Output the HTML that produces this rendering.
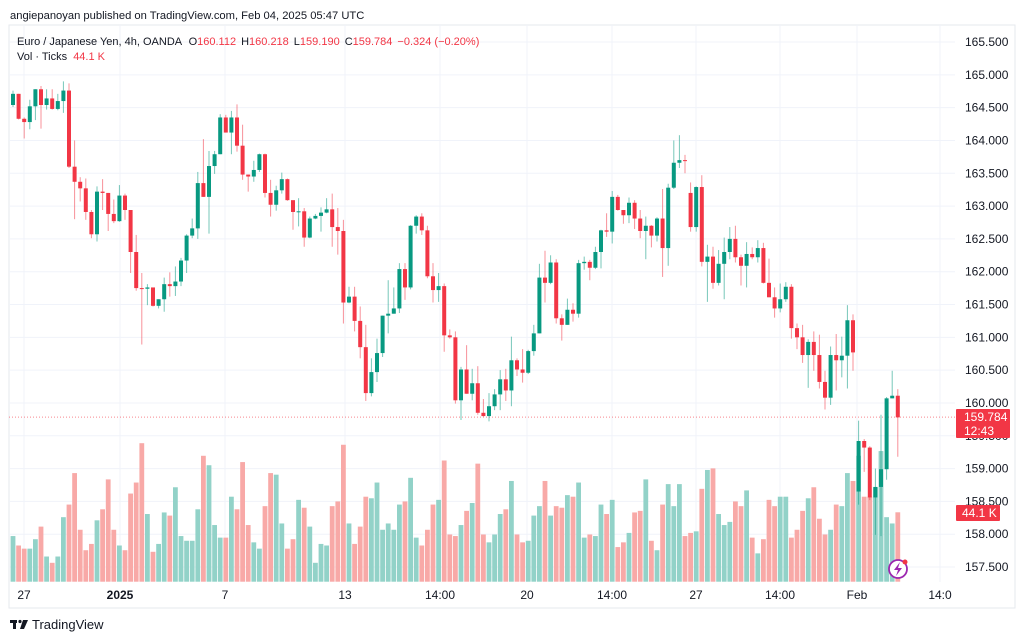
<!DOCTYPE html>
<html><head><meta charset="utf-8"><style>
html,body{margin:0;padding:0;background:#fff;}
svg{display:block;font-family:"Liberation Sans",sans-serif;}
</style></head><body>
<svg id="chart" width="1024" height="641" viewBox="0 0 1024 641" xmlns="http://www.w3.org/2000/svg">
<text x="10" y="19" font-size="11.2" fill="#131722">angiepanoyan published on TradingView.com, Feb 04, 2025 05:47 UTC</text>
<rect x="9" y="25" width="1006" height="583" fill="none" stroke="#e6e8ee" stroke-width="1"/>
<g id="grid"></g>
<g id="vol"></g>
<line x1="9" x2="955" y1="417.1" y2="417.1" stroke="#F23645" stroke-opacity="0.6" stroke-dasharray="1,2"/>
<g id="candles"></g>
<g id="yaxis"></g>
<g id="xaxis"></g>
<text x="17" y="45" font-size="11" fill="#131722">Euro / Japanese Yen, 4h, OANDA <tspan dx="4">O</tspan><tspan fill="#F23645">160.112</tspan><tspan dx="5">H</tspan><tspan fill="#F23645">160.218</tspan><tspan dx="5">L</tspan><tspan fill="#F23645">159.190</tspan><tspan dx="5">C</tspan><tspan fill="#F23645">159.784</tspan><tspan dx="5" fill="#F23645">−0.324 (−0.20%)</tspan></text>
<text x="17" y="60" font-size="11" fill="#131722">Vol · Ticks <tspan dx="3" fill="#F23645">44.1 K</tspan></text>
<g>
<rect x="956" y="409" width="54" height="29" rx="1" fill="#F23645"/>
<text x="964" y="421" font-size="12" fill="#fff">159.784</text>
<text x="964" y="435" font-size="12" fill="#fff">12:43</text>
</g>
<g>
<rect x="956" y="505" width="44" height="16" rx="1" fill="#F23645"/>
<text x="962" y="517" font-size="12" fill="#fff">44.1 K</text>
</g>
<g>
<circle cx="898" cy="569" r="9" fill="#fff" stroke="#9c27b0" stroke-width="1.8"/>
<path d="M900 562 L894 570 L898 570 L896 576 L902 568 L898 568 Z" fill="#9c27b0"/>
<circle cx="905" cy="562" r="2.5" fill="#F23645"/>
</g>
<g>
<rect x="10" y="620" width="7" height="3" fill="#131722"/>
<rect x="13" y="620" width="3" height="9" fill="#131722"/>
<circle cx="20" cy="621.5" r="1.6" fill="#131722"/>
<path d="M23 620 L28 620 L24 629 L20 629 Z" fill="#131722"/>
<text x="32" y="629" font-size="13" fill="#131722">TradingView</text>
</g>
</svg>
<script>
const closes=[164.71,164.33,164.28,164.52,164.78,164.54,164.64,164.48,164.60,164.76,163.60,163.37,163.27,162.91,162.57,163.22,163.20,162.88,162.77,163.16,162.94,162.30,161.75,161.74,161.76,161.48,161.58,161.81,161.78,161.85,162.17,162.55,162.66,163.35,163.14,163.61,163.79,164.35,164.12,164.35,163.92,163.48,163.45,163.55,163.79,163.20,163.02,163.24,163.41,163.09,162.91,162.92,162.52,162.81,162.85,162.90,162.95,162.68,162.62,161.53,161.62,161.25,160.85,160.15,160.47,160.76,161.33,161.36,161.44,162.04,161.76,162.70,162.84,162.63,161.93,161.72,161.78,161.03,161.00,160.04,160.51,160.14,160.30,159.85,159.80,159.95,160.13,160.36,160.19,160.65,160.51,160.46,160.79,161.06,161.91,161.83,162.14,161.29,161.19,161.42,161.36,162.13,162.15,162.06,162.30,162.63,162.61,163.14,162.94,162.86,163.05,162.81,162.62,162.70,162.55,162.81,162.36,163.28,163.66,163.70,163.69,162.68,163.29,162.15,162.23,161.83,162.12,162.30,162.50,162.22,162.09,162.27,162.22,162.36,161.83,161.61,161.44,161.58,161.77,161.14,161.00,160.73,160.93,160.73,160.32,160.08,160.73,160.65,160.72,161.26,160.77,159.42,159.32,158.56,158.72,158.99,160.07,160.11,159.78];
const highs=[164.76,164.71,164.35,164.62,164.78,164.83,164.78,164.78,164.71,164.90,164.87,164.00,163.44,163.42,162.94,163.30,163.41,163.20,163.10,163.32,163.19,162.94,162.56,161.98,161.81,161.75,161.58,161.91,161.99,162.08,162.21,162.57,162.81,163.52,164.02,163.84,163.84,164.40,164.39,164.45,164.55,164.24,163.48,163.69,163.80,163.80,163.40,163.31,163.51,163.42,163.08,163.12,162.97,162.84,162.88,162.98,163.12,163.19,162.97,162.79,161.77,161.77,161.47,161.19,160.68,160.98,161.33,161.87,161.76,162.13,162.13,162.71,162.86,162.89,162.70,162.13,161.98,161.82,161.12,161.09,160.55,160.88,160.52,160.56,160.06,160.15,160.21,160.50,160.52,161.01,160.68,160.82,160.81,161.19,162.12,162.32,162.25,162.19,161.35,161.59,161.52,162.18,162.23,162.18,162.38,162.64,162.89,163.23,163.17,162.94,163.13,163.09,162.94,162.84,162.71,162.83,163.26,163.34,164.00,164.08,163.78,163.36,163.30,163.47,162.41,162.38,162.33,162.52,162.68,162.70,162.26,162.45,162.37,162.48,162.44,162.20,161.76,161.82,161.84,161.81,161.21,161.19,160.97,161.09,161.04,160.49,160.86,161.05,161.01,161.49,161.35,159.73,159.45,159.34,159.00,159.82,160.09,160.49,160.21];
const lows=[164.51,164.32,164.03,164.17,164.31,164.18,164.47,164.47,164.46,164.42,163.58,162.80,163.07,162.79,162.51,162.46,162.94,162.62,162.74,162.76,162.79,161.98,161.71,160.89,161.49,161.47,161.44,161.39,161.62,161.63,161.78,161.98,162.51,162.50,163.14,162.58,163.49,163.79,164.12,163.79,163.83,163.40,163.22,163.37,163.52,163.13,162.84,162.93,163.19,163.08,162.64,162.69,162.38,162.51,162.80,162.61,162.89,162.38,162.26,161.21,161.52,161.09,160.68,160.03,160.10,160.32,160.70,161.06,161.36,161.37,161.57,161.73,162.58,162.56,161.90,161.53,161.54,160.78,160.98,159.99,159.74,160.14,160.04,159.82,159.79,159.72,159.89,159.89,160.03,159.95,160.41,160.31,160.44,160.72,161.06,161.53,161.81,161.21,160.95,161.19,161.24,161.30,162.03,161.87,162.04,162.05,162.53,162.43,162.93,162.73,162.74,162.65,162.51,162.19,162.37,162.46,161.92,162.09,163.26,163.58,163.50,162.61,162.61,162.08,161.54,161.74,161.79,161.58,162.19,162.14,161.79,161.76,162.19,162.14,161.82,161.61,161.30,161.38,161.54,160.98,160.82,160.61,160.23,160.49,160.22,159.90,159.97,160.19,160.39,160.22,160.49,158.45,158.95,158.52,157.99,157.97,158.83,160.07,159.18];
const gapOpens={0:164.54,121:163.20,151:158.65};
const volumes=[29,23,21,21,27,35,16,12,16,41,49,69,33,20,24,39,46,65,33,23,20,56,63,88,43,19,24,44,42,60,29,26,26,46,80,74,36,28,28,54,46,76,36,25,21,48,69,68,37,21,27,52,47,35,12,24,23,48,51,87,37,24,35,54,53,63,33,37,33,49,51,66,28,23,33,49,52,77,30,29,36,45,50,75,30,25,30,43,46,64,30,25,26,42,48,64,42,48,47,55,54,63,28,30,29,49,43,52,22,25,31,44,45,65,26,20,49,62,48,62,29,31,32,59,71,72,43,36,38,51,48,58,28,18,27,52,48,54,54,28,33,45,53,60,40,30,33,49,48,69,64,80,54,54,60,83,41,37,44.1];
const priceTicks=[165.5,165,164.5,164,163.5,163,162.5,162,161.5,161,160.5,160,159.5,159,158.5,158,157.5];
const timeLabels=["27","2025","7","13","14:00","20","14:00","27","14:00","Feb","14:0"];
const timeLabelX=[24,120,225,345,440,527,612,696,780,857,940];

const NS="http://www.w3.org/2000/svg";
function xOf(i){return 13+i*5.6;}
function yOf(p){return 42+(165.5-p)*65.625;}
function vY(v){return 581.7-v*1.574;}
function mk(tag,attrs,parent){const e=document.createElementNS(NS,tag);for(const k in attrs)e.setAttribute(k,attrs[k]);parent.appendChild(e);return e;}
const G=document.getElementById('grid'),V=document.getElementById('vol'),C=document.getElementById('candles'),Y=document.getElementById('yaxis'),X=document.getElementById('xaxis');
priceTicks.forEach(p=>{
  const l=mk('line',{x1:9,x2:955,y1:yOf(p),y2:yOf(p),stroke:'#f0f3fa'},G);
  
  
  const t=mk('text',{x:965,y:yOf(p)+4,'font-size':12,fill:'#131722'},Y);
  t.textContent=p.toFixed(3);
  
  
});
timeLabels.forEach((s,i)=>{
  const l=mk('line',{x1:timeLabelX[i],x2:timeLabelX[i],y1:25,y2:582,stroke:'#f0f3fa'},G);
  
  
  const t=mk('text',{x:timeLabelX[i],y:599,'font-size':12,fill:'#131722','text-anchor':'middle','font-weight':s==='2025'?'bold':'normal'},X);
  t.textContent=s;
  
  
});
closes.forEach((c,i)=>{
  const o=(i in gapOpens)?gapOpens[i]:closes[i-1];
  const up=c>=o;
  const x=xOf(i);
  const vb=mk('rect',{x:x-2.4,y:vY(volumes[i]),width:4.8,height:581.7-vY(volumes[i]),fill:up?'#92d2c8':'#f8a9a7'},V);
  
  
  const col=up?'#089981':'#F23645';
  const g=mk('g',{},C);
  
  
  mk('line',{x1:x,x2:x,y1:yOf(highs[i]),y2:yOf(lows[i]),stroke:col,'stroke-opacity':0.55,'stroke-width':1},g);
  const top=yOf(Math.max(o,c)),bot=yOf(Math.min(o,c));
  mk('rect',{x:x-2,y:top,width:4,height:Math.max(1,bot-top),fill:col},g);
});
</script>
</body></html>
